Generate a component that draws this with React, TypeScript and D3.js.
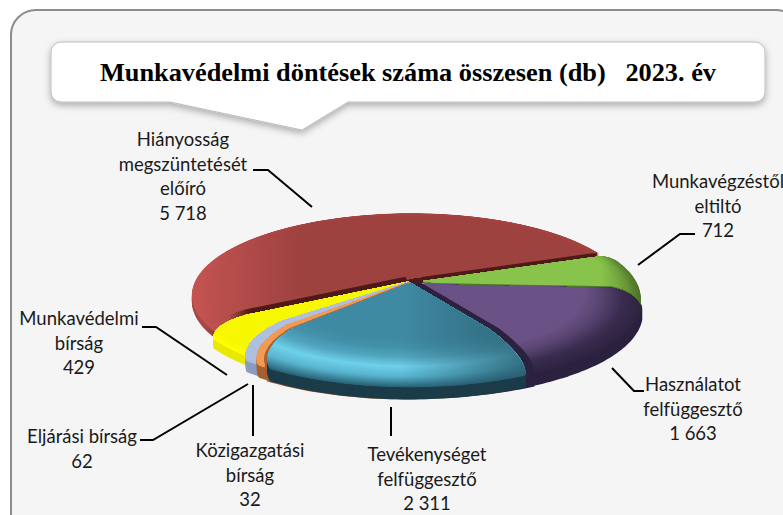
import React from "react";
import * as d3 from "d3";

const categories = ["Hiányosság megszüntetését előíró","Munkavégzéstől eltiltó","Használatot felfüggesztő","Tevékenységet felfüggesztő","Közigazgatási bírság","Eljárási bírság","Munkavédelmi bírság"];
const values = [5718, 712, 1663, 2311, 32, 62, 429];
const labelLines = [
  ["Hiányosság","megszüntetését","előíró","5 718"],
  ["Munkavégzéstől","eltiltó","712"],
  ["Használatot","felfüggesztő","1 663"],
  ["Tevékenységet","felfüggesztő","2 311"],
  ["Közigazgatási","bírság","32"],
  ["Eljárási bírság","62"],
  ["Munkavédelmi","bírság","429"],
];
const labelX = [183, 718, 693, 427, 250, 82, 79];
const labelY = [146, 188, 391, 461, 457, 443, 325];
const leaders = [
  [[253,170],[268,170],[312,207]],
  [[695,234],[680,234],[638,265]],
  [[612,368],[634,391],[644,391]],
  [[391,407],[391,436]],
  [[253,385],[253,436]],
  [[140,440],[153,440],[248,384]],
  [[142,327],[156,327],[227,375]],
];
const ramps = [
  ["#a64644","#a24442","#9e4240"],
  ["#5f8a34","#7fb846","#88c44b"],
  ["#2e2440","#3a2d50","#574470","#6b5286"],
  ["#2a6478","#58b4ce","#6fd0ea","#52a5bf","#4392aa","#3f8aa3"],
  ["#f09a55","#f09a55"],
  ["#a5bbe2","#aebfe0"],
  ["#ffff00","#f7f700"],
];
const walls = ["#4e1a18","#55792e","#2c2240","#1b3c48","#a85f30","#8a9cc0","#e8e800"];
const radiusScale = [0.97, 0.96, 0.96, 1, 1, 1, 0.97];
const shiftU = [-0.02, 0.035, 0.035, -0.02, -0.025, -0.03, -0.035];
const shiftV = [0.03, 0, -0.04, -0.02, -0.015, -0.01, -0.01];
const wallH = [6, 5, 12, 12, 12, 11, 9];
const rampDepth = [0.08, 0.1, 0.26, 0.4, 0.02, 0.02, 0.05];
// slice edges in degrees beyond the value angle, hidden under the neighbouring slice
const extendStart = [13, 0, 0, 0, 60, 60, 60];
const extendEnd = [0, 17, 18, 0, 1.8, 3, 0];
// rounding at each edge: radial length and angular length in degrees
const cornerStartR = [0, 0.05, 0.13, 0.4, 0, 0, 0];
const cornerStartA = [0, 5, 13, 7.5, 0, 0, 0];
const cornerEndR = [0, 0, 0, 0.32, 0.32, 0.32, 0.22];
const cornerEndA = [0, 0, 0, 13, 13, 13, 10];
const bulges = [0.6, 0.6, 0.6, 0.45, 0.45, 0.45, 0.6];
const shadowOf = [
  [],
  [{ dx: -1, dy: -4, fill: "url(#gShadow)" }],
  [{ dx: 0, dy: -1.5, fill: "#4f7a2c" }],
  [{ dx: 9, dy: -1, fill: "#2c2240" }, { dx: -3, dy: 0, fill: "#a85f30" }],
  [],
  [],
  [{ dx: -2, dy: -5, fill: "url(#yShadow)" }],
];

const cx = 415, cy = 281, rx = 222, ry = 82, persp = 0.21, startAngle = -119 * Math.PI / 180;
const rad = Math.PI / 180;

const pie = d3.pie<number>().sort(null).startAngle(startAngle).endAngle(startAngle + 2 * Math.PI);
const line = d3.line<[number, number]>().curve(d3.curveLinear);
const px = (u: number, v: number): [number, number] => {
  const w = 1 + persp * v;
  return [cx + (rx * u) / w, cy - (ry * v) / w];
};
const project = (i: number, pts: [number, number][], dx: number, dy: number) =>
  line(pts.map(([u, v]) => {
    const p = px(u * radiusScale[i] + shiftU[i], v * radiusScale[i] + shiftV[i]);
    return [p[0] + dx, p[1] + dy] as [number, number];
  })) + "Z";

function outline(i: number, a0: number, a1: number, dx: number, dy: number) {
  const R = 1;
  const pts: [number, number][] = [];
  const P = (a: number, r: number): [number, number] => [r * Math.sin(a), r * Math.cos(a)];
  const quad = (A: [number, number], B: [number, number], C: [number, number]) => {
    const M = [(A[0] + C[0]) / 2, (A[1] + C[1]) / 2];
    const Q = [M[0] + bulges[i] * (B[0] - M[0]), M[1] + bulges[i] * (B[1] - M[1])];
    d3.range(0, 17).forEach((k) => {
      const t = k / 16;
      pts.push([
        (1 - t) ** 2 * A[0] + 2 * t * (1 - t) * Q[0] + t * t * C[0],
        (1 - t) ** 2 * A[1] + 2 * t * (1 - t) * Q[1] + t * t * C[1],
      ]);
    });
  };
  pts.push([0, 0]);
  const s = a0 + cornerStartA[i] * rad, e = a1 - cornerEndA[i] * rad;
  if (cornerStartR[i] > 0) quad(P(a0, R - cornerStartR[i]), P(a0, R), P(s, R));
  else pts.push(P(a0, R));
  const n = Math.max(2, Math.ceil((e - s) / 0.02));
  d3.range(0, n + 1).forEach((k) => pts.push(P(s + ((e - s) * k) / n, R)));
  if (cornerEndR[i] > 0) quad(P(e, R), P(a1, R), P(a1, R - cornerEndR[i]));
  pts.push([0, 0]);
  return project(i, pts, dx, dy);
}
const ring = (i: number, r: number) =>
  project(i, d3.range(0, 180).map((k) => {
    const a = (k * 2 * Math.PI) / 180;
    return [r * Math.sin(a), r * Math.cos(a)] as [number, number];
  }), 0, 0);

const overlays: Record<number, { x1: number; x2: number; stops: [number, string, number][] }> = {
  0: { x1: 190, x2: 300, stops: [[0, "#d05a58", 0.75], [1, "#d05a58", 0]] },
  1: { x1: 600, x2: 642, stops: [[0, "#3f5f20", 0], [1, "#3f5f20", 0.6]] },
  3: { x1: 400, x2: 530, stops: [[0, "#2a5f72", 0], [1, "#2a5f72", 0.85]] },
};

const drawOrder = [0, 1, 2, 6, 5, 4, 3];
const font = "Lato, 'Open Sans', sans-serif";

export default function App() {
  const arcs = pie(values);
  return (
    <svg width={783} height={515} style={{ position: "fixed", left: 0, top: 0, background: "#fff" }} data-categories={categories.join("|")}>
      <defs>
        <filter id="soft" x="-10%" y="-20%" width="120%" height="150%">
          <feDropShadow dx="0" dy="3" stdDeviation="3.5" floodColor="#000" floodOpacity="0.3" />
        </filter>
        <linearGradient id="redWall" gradientUnits="userSpaceOnUse" x1={205} x2={250} y1={0} y2={0}>
          <stop offset="0" stopColor="#a84644" />
          <stop offset="1" stopColor={walls[0]} />
        </linearGradient>
        <linearGradient id="yShadow" gradientUnits="userSpaceOnUse" x1={228} x2={250} y1={0} y2={0}>
          <stop offset="0" stopColor="#4e1a18" stopOpacity={0} />
          <stop offset="1" stopColor="#4e1a18" />
        </linearGradient>
        <linearGradient id="gShadow" gradientUnits="userSpaceOnUse" x1={590} x2={600} y1={0} y2={0}>
          <stop offset="0" stopColor="#4e1a18" />
          <stop offset="1" stopColor="#4e1a18" stopOpacity={0} />
        </linearGradient>
        {Object.entries(overlays).map(([k, o]) => (
          <linearGradient key={k} id={`ov${k}`} gradientUnits="userSpaceOnUse" x1={o.x1} x2={o.x2} y1={0} y2={0}>
            {o.stops.map((s, i) => (
              <stop key={i} offset={s[0]} stopColor={s[1]} stopOpacity={s[2]} />
            ))}
          </linearGradient>
        ))}
        {arcs.map((a, i) => (
          <clipPath key={i} id={`clip${i}`}>
            <path d={outline(i, a.startAngle - extendStart[i] * rad, a.endAngle + extendEnd[i] * rad, 0, 0)} />
          </clipPath>
        ))}
      </defs>
      <rect x={11} y={10} width={790} height={530} rx={25} fill="#f5f5f5" stroke="#8c8c8c" strokeWidth={2} />
      <path
        d="M61,42H755a10,10 0 0 1 10,10V92a10,10 0 0 1 -10,10H348L302,130L170,102H61a10,10 0 0 1 -10,-10V52a10,10 0 0 1 10,-10Z"
        fill="#fff" stroke="#bdbdbd" strokeWidth={1} filter="url(#soft)"
      />
      <text x={408} y={81} textAnchor="middle" fontFamily="'Liberation Serif', serif" fontWeight={700} fontSize={25.5} textLength={616} lengthAdjust="spacingAndGlyphs" fill="#000" style={{ whiteSpace: "pre" }}>
        {"Munkavédelmi döntések száma összesen (db)   2023. év"}
      </text>

      {drawOrder.map((i) => {
        const a = arcs[i];
        const a0 = a.startAngle - extendStart[i] * rad, a1 = a.endAngle + extendEnd[i] * rad;
        const shape = (dy: number, dx = 0) => outline(i, a0, a1, dx, dy);
        const color = d3.scaleLinear<string>()
          .domain(ramps[i].map((_, k) => k / (ramps[i].length - 1)))
          .range(ramps[i])
          .interpolate(d3.interpolateRgb);
        const layers = d3.range(0, 41).map((k) => k / 40);
        return (
          <g key={i}>
            {shadowOf[i].map((sh, k) => (
              <g key={k}>
                <path d={shape(sh.dy, sh.dx)} fill={sh.fill} />
                {i === 3 && <path d={shape(wallH[i] + sh.dy, sh.dx)} fill={sh.fill} />}
              </g>
            ))}
            {d3.range(wallH[i], 0, -1).map((h) => (
              <path key={h} d={shape(h)} fill={i === 0 ? "url(#redWall)" : walls[i]} />
            ))}
            <g clipPath={`url(#clip${i})`}>
              {layers.map((t) => (
                <path key={t} d={ring(i, 1 - t * rampDepth[i])} fill={color(t)} />
              ))}
            </g>
            {overlays[i] && <path d={shape(0)} fill={`url(#ov${i})`} />}
          </g>
        );
      })}

      {leaders.map((l, i) => (
        <path key={i} d={line(l as [number, number][])!} fill="none" stroke="#000" strokeWidth={2} />
      ))}
      {labelLines.map((ls, i) => (
        <text key={i} x={labelX[i]} y={labelY[i]} textAnchor="middle" fontFamily={font} fontSize={18.5} fill="#1a1a1a">
          {ls.map((t, k) => (
            <tspan key={k} x={labelX[i]} dy={k === 0 ? 0 : 24.5}>{t}</tspan>
          ))}
        </text>
      ))}
    </svg>
  );
}
